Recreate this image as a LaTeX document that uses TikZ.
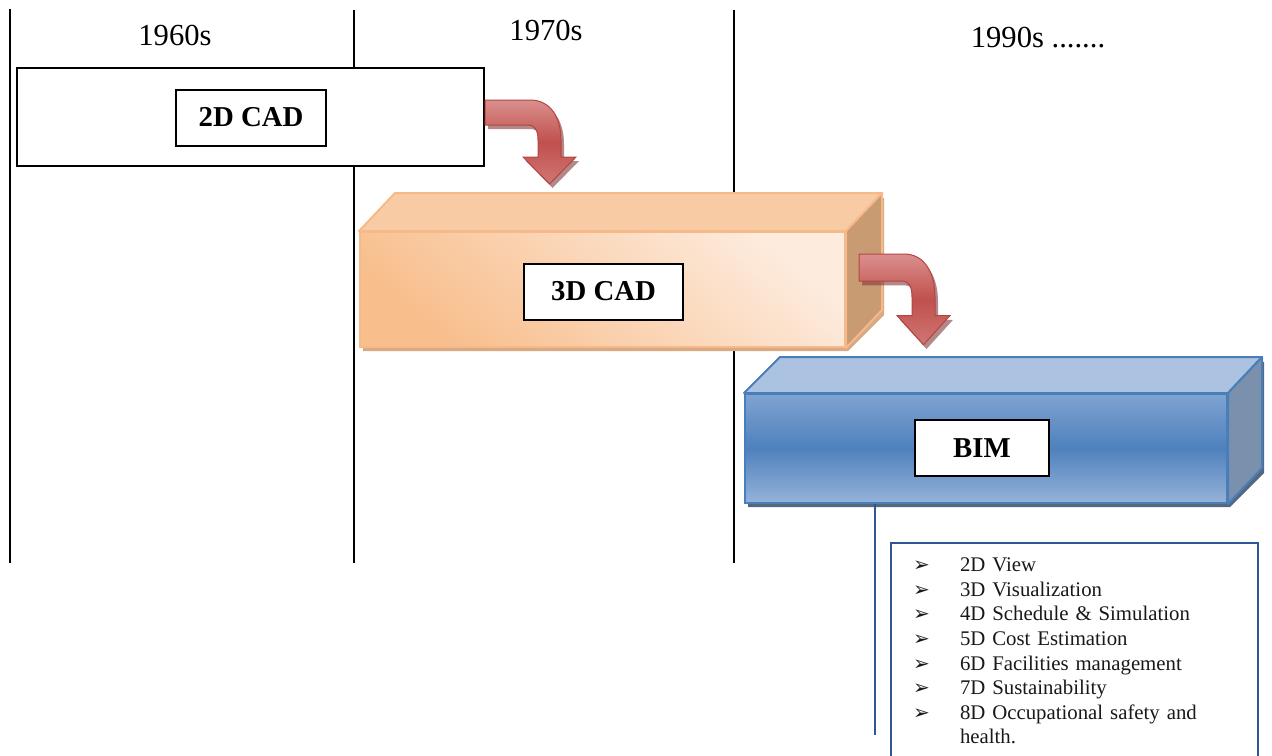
\documentclass[tikz,border=0pt]{standalone}
\usepackage{fontspec}
\setmainfont{Liberation Serif}
\newfontfamily\symbfont{DejaVu Sans}
\usepackage{tikz}
\usetikzlibrary{calc}
\definecolor{peachtop}{HTML}{F9CBA4}
\definecolor{peachlight}{HTML}{FDEBDD}
\definecolor{peachdark}{HTML}{F8BE8C}
\definecolor{peachside}{HTML}{C89B73}
\definecolor{peachedge}{HTML}{F6B98A}
\definecolor{peachshadow}{HTML}{D9A983}
\definecolor{bimtop}{HTML}{ABC2E0}
\definecolor{bimupper}{HTML}{7FA3D1}
\definecolor{bimmid}{HTML}{4F81BD}
\definecolor{bimlower}{HTML}{95B3D8}
\definecolor{bimside}{HTML}{7A90AD}
\definecolor{bimedge}{HTML}{4A7EBB}
\definecolor{bimshadow}{HTML}{55677F}
\definecolor{arrowred}{HTML}{C0504D}
\definecolor{arrowlight}{HTML}{DA908E}
\definecolor{arrowlow}{HTML}{CF7774}
\definecolor{arrowedge}{HTML}{B64440}
\definecolor{arrowshadow}{HTML}{7F3B39}
\definecolor{leadblue}{HTML}{2F5597}
\newcommand{\featbullet}{\makebox[23.5pt][l]{\symbfont\fontsize{10}{12}\selectfont ➢}}
\newcommand{\bentarrowpath}{(0,0) -- (45,0) .. controls (66,0) and (76,18) .. (76,40) -- (76,57) -- (91,57) -- (64.5,84) -- (38,57) -- (53,57) -- (53,40) .. controls (53,30) and (50,25) .. (42,25) -- (0,25) -- cycle}
\tikzset{
  yearlabel/.style={inner sep=0pt, font=\fontsize{15.3}{18}\selectfont},
  tag/.style={
    draw=black, line width=1pt, fill=white,
    minimum height=28pt, inner sep=0pt,
    font=\bfseries\fontsize{14.4}{17}\selectfont
  },
  bentarrow/.pic={
    \fill[arrowshadow, opacity=0.6, shift={(3,4)}] \bentarrowpath;
    \shade[draw=arrowedge, line width=0.5pt, top color=arrowlight, bottom color=arrowlow, middle color=arrowred] \bentarrowpath;
  }
}
\begin{document}
\begin{tikzpicture}[x=0.5pt, y=-0.5pt,
  timeline/.style={line width=1pt, black},
  flatbox/.style={draw=black, line width=1pt, fill=white, inner sep=0pt},
  peachfront/.style={draw=peachedge, line width=1pt, inner sep=0pt, bottom color=peachdark, top color=peachlight, shading angle=-40},
  peachface/.style={draw=peachedge, line width=1pt, line join=round},
  bimfront/.style={draw=bimedge, line width=1pt, inner sep=0pt, top color=bimupper, bottom color=bimlower, middle color=bimmid},
  bimface/.style={draw=bimedge, line width=1pt, line join=round},
  leader/.style={line width=1pt, leadblue},
  featbox/.style={draw=leadblue, line width=1pt, fill=white, inner xsep=11pt, inner ysep=7.5pt,
    text width=161.5pt, align=left, text=black!90, font=\fontsize{10.4}{12.3}\selectfont}]

  \useasboundingbox (0,0) rectangle (1272,755);

  % ====== TIME AXIS ======
  \draw[timeline] (10,9) -- (10,563);
  \draw[timeline] (354,10) -- (354,563);
  \draw[timeline] (734,10) -- (734,563);
  \node[yearlabel] (y60) at (175,35) {1960s};
  \node[yearlabel] (y70) at (546,30) {1970s};
  \node[yearlabel] (y90) at (1038,38) {1990s .......};

  % ====== 2D CAD ======
  \node[flatbox, minimum width=233.5pt, minimum height=49pt] (cad2box) at (250.5,117) {};
  \node[tag, minimum width=75pt] (cad2) at (251,117.5) {2D CAD};

  % ====== 3D CAD ======
  \fill[peachshadow, shift={(3,4)}] (360,347) -- (845,347) -- (881,311) -- (881,194) -- (396,194) -- (360,232) -- cycle;
  \node[peachfront, minimum width=242.5pt, minimum height=57.5pt] (cad3front) at (602.5,289.5) {};
  \filldraw[peachface, fill=peachtop] (cad3front.north west) -- ++(36,-38) -- ($(cad3front.north east)+(36,-38)$) -- (cad3front.north east) -- cycle;
  \filldraw[peachface, fill=peachside] (cad3front.north east) -- ++(36,-38) -- ++(0,117) -- (cad3front.south east) -- cycle;
  \node[tag, minimum width=79.5pt] (cad3) at (603.5,291.5) {3D CAD};

  % ====== BIM ======
  \fill[bimshadow, shift={(3,4)}] (745,503) -- (1227,503) -- (1261,469) -- (1261,358) -- (781,358) -- (745,394) -- cycle;
  \node[bimfront, minimum width=241pt, minimum height=54.5pt] (bimfront) at (986,448.5) {};
  \filldraw[bimface, fill=bimtop] (bimfront.north west) -- ++(36,-36) -- ($(bimfront.north east)+(34,-36)$) -- (bimfront.north east) -- cycle;
  \filldraw[bimface, fill=bimside] (bimfront.north east) -- ++(34,-36) -- ++(0,111) -- (bimfront.south east) -- cycle;
  \node[tag, minimum width=67pt] (bim) at (982,448) {BIM};

  % ====== ARROWS ======
  \pic at (cad2box.east |- 0,100) {bentarrow};
  \pic[yscale=1.08] at ($(cad3front.north east)+(13,23)$) {bentarrow};

  % ====== BIM DIMENSIONS ======
  \coordinate (leadend) at (875,735);
  \draw[leader] (bimfront.south -| leadend) -- (leadend);
  \node[featbox, anchor=north west] (feat) at (890,542) {%
    \featbullet 2D View\\
    \featbullet 3D Visualization\\
    \featbullet 4D Schedule \& Simulation\\
    \featbullet 5D Cost Estimation\\
    \featbullet 6D Facilities management\\
    \featbullet 7D Sustainability\\
    \featbullet 8D Occupational safety and\\
    \hspace*{23.5pt}health.};

\end{tikzpicture}
\end{document}
